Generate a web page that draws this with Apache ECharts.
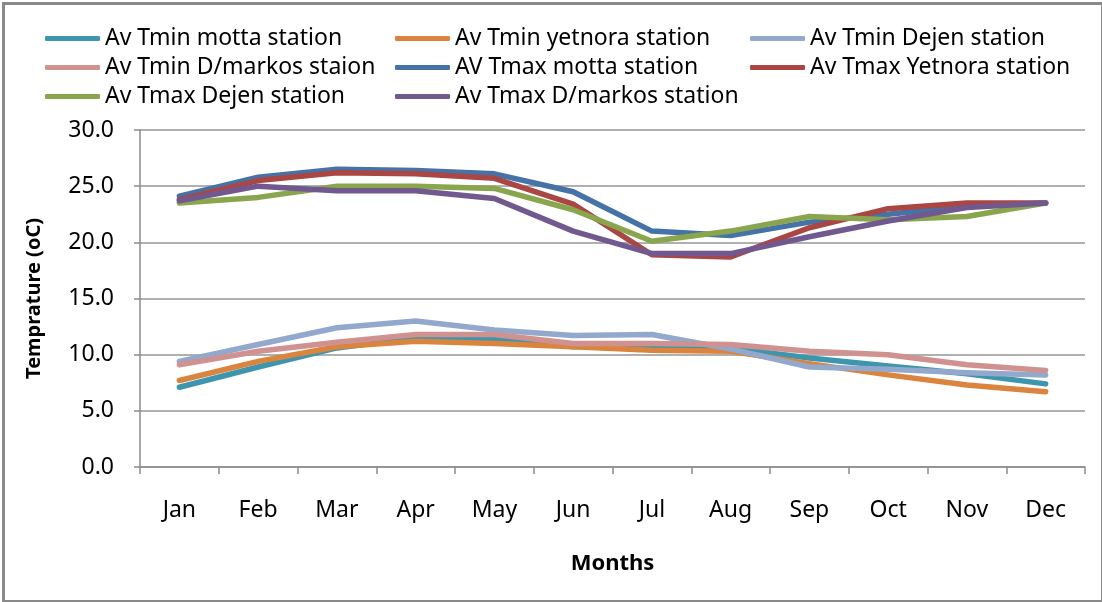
<!DOCTYPE html>
<html>
<head>
<meta charset="utf-8">
<script src="https://cdn.jsdelivr.net/npm/echarts@6/dist/echarts.min.js"></script>
<style>html,body{margin:0;padding:0;background:#fff}#c{width:1102px;height:602px}</style>
</head>
<body>
<div id="c"></div>
<script>
const months = ['Jan','Feb','Mar','Apr','May','Jun','Jul','Aug','Sep','Oct','Nov','Dec'];
const yTicks = [0, 5, 10, 15, 20, 25, 30];
const seriesNames = ['Av Tmin motta station','Av Tmin yetnora station','Av Tmin Dejen station','Av Tmin D/markos staion','AV Tmax motta station','Av Tmax Yetnora station','Av Tmax Dejen station','Av Tmax D/markos station'];
const tminMotta   = [7.1, 8.9, 10.6, 11.5, 11.4, 10.7, 10.8, 10.6, 9.7, 9.0, 8.3, 7.4];
const tminYetnora = [7.7, 9.4, 10.7, 11.2, 11.0, 10.7, 10.4, 10.3, 9.2, 8.2, 7.3, 6.7];
const tminDejen   = [9.4, 10.9, 12.4, 13.0, 12.2, 11.7, 11.8, 10.5, 8.9, 8.7, 8.4, 8.2];
const tminDmarkos = [9.1, 10.3, 11.1, 11.8, 11.8, 11.0, 11.0, 10.9, 10.3, 10.0, 9.1, 8.6];
const tmaxMotta   = [24.1, 25.8, 26.5, 26.4, 26.1, 24.5, 21.0, 20.6, 21.8, 22.5, 23.2, 23.5];
const tmaxYetnora = [23.8, 25.5, 26.2, 26.1, 25.7, 23.4, 18.9, 18.7, 21.3, 23.0, 23.5, 23.5];
const tmaxDejen   = [23.5, 24.0, 25.0, 25.0, 24.8, 22.9, 20.1, 21.0, 22.3, 22.0, 22.3, 23.5];
const tmaxDmarkos = [23.7, 25.0, 24.6, 24.6, 23.9, 21.0, 19.0, 19.0, 20.5, 21.9, 23.1, 23.5];
const values = [tminMotta, tminYetnora, tminDejen, tminDmarkos, tmaxMotta, tmaxYetnora, tmaxDejen, tmaxDmarkos];
const colors = ['#3D96AE','#DB843D','#92A8CD','#D09291','#4572A7','#AA4643','#89A54E','#71588F'];

const font = 'Noto Sans';
const legendCols = [[0,3,6],[1,4,7],[2,5]];
const legendLeft = [45, 395, 750];

const chart = echarts.init(document.getElementById('c'));
chart.setOption({
  animation: false,
  color: colors,
  graphic: [{
    type: 'rect', left: 1, top: 1, z: 100, silent: true,
    shape: { x: 0, y: 0, width: 1099, height: 598 },
    style: { fill: 'none', stroke: '#898989', lineWidth: 3 }
  }],
  legend: legendCols.map((idx, i) => ({
    orient: 'vertical',
    left: legendLeft[i],
    top: 27,
    padding: 0,
    itemGap: 6,
    itemWidth: 55,
    itemHeight: 5,
    icon: 'roundRect',
    data: idx.map(k => seriesNames[k]),
    textStyle: { fontFamily: font, fontSize: 23, lineHeight: 23, color: '#000', padding: [0,0,0,0] }
  })),
  grid: { left: 140, right: 17, top: 130, bottom: 135, containLabel: false },
  xAxis: {
    type: 'category',
    data: months,
    boundaryGap: true,
    name: 'Months',
    nameLocation: 'middle',
    nameGap: 86,
    nameTextStyle: { fontFamily: font, fontSize: 22, fontWeight: 'bold', color: '#000' },
    axisLine: { lineStyle: { color: '#8c8c8c', width: 1.5 } },
    axisTick: { show: true, length: 7, alignWithLabel: false, lineStyle: { color: '#8c8c8c', width: 1.5 } },
    axisLabel: { fontFamily: font, fontSize: 23, color: '#000', margin: 32 },
    splitLine: { show: false }
  },
  yAxis: {
    type: 'value',
    min: yTicks[0],
    max: yTicks[yTicks.length - 1],
    interval: 5,
    name: 'Temprature (oC)',
    nameLocation: 'middle',
    nameGap: 96,
    nameTextStyle: { fontFamily: font, fontSize: 20, fontWeight: 'bold', color: '#000' },
    axisLine: { show: true, lineStyle: { color: '#8c8c8c', width: 1.5 } },
    axisTick: { show: true, length: 6, lineStyle: { color: '#8c8c8c', width: 1.5 } },
    axisLabel: { fontFamily: font, fontSize: 23, color: '#000', margin: 26, formatter: v => v.toFixed(1) },
    splitLine: { show: true, lineStyle: { color: '#969696', width: 1.5 } }
  },
  series: seriesNames.map((n, i) => ({
    name: n,
    type: 'line',
    data: values[i],
    symbol: 'none',
    lineStyle: { width: 5.5, color: colors[i], cap: 'round', join: 'round' },
    itemStyle: { color: colors[i] },
    z: 2 + i
  }))
});
</script>
</body>
</html>
